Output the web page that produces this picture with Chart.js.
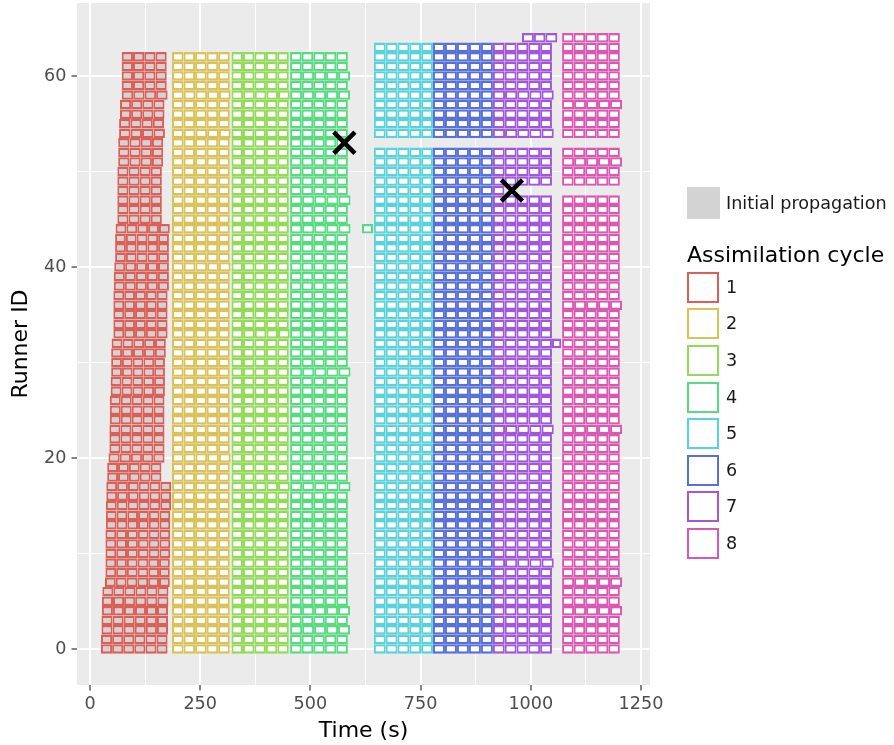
<!DOCTYPE html>
<html>
<head>
<meta charset="utf-8">
<script src="https://cdn.jsdelivr.net/npm/chart.js@4"></script>
<style>
  body { margin: 0; background: #fff; font-family: 'DejaVu Sans', sans-serif; }
  #wrap { position: relative; width: 894px; height: 745px; }
  #chart { position: absolute; left: 0; top: 0; }
  .key { position: absolute; box-sizing: border-box; width: 32px; height: 31px; background: #fff; border: 2.3px solid; }
  .lab { position: absolute; font-size: 17.6px; color: #1a1a1a; line-height: 20px; }
  #title { position: absolute; left: 687px; top: 242px; font-size: 22px; color: #000; }
</style>
</head>
<body>
<div id="wrap">
  <canvas id="chart" width="894" height="745"></canvas>
  <div class="key" style="left:687px;top:187px;width:33px;height:32px;border:none;background:#d3d3d3"></div>
  <div class="lab" style="left:726px;top:193px">Initial propagation</div>
  <div id="title">Assimilation cycle</div>
  <div id="legend"></div>
</div>
<script>
// --- Data ---
const cycles      = ['1', '2', '3', '4', '5', '6', '7', '8'];
const cycleColors = ['#DB5F57', '#DBC257', '#91DB57', '#57DB80', '#57D3DB', '#5770DB', '#A157DB', '#DB57B2'];

// cycle 1 = initial propagation, one entry per runner 0..62
const c1Start = [25, 25, 26, 26, 27, 27, 28, 34, 35, 35, 35, 35, 35, 36, 36, 36, 37, 37,
                 39, 39, 42, 44, 44, 44, 45, 45, 45, 47, 47, 48, 48, 48, 49, 53, 53, 53,
                 53, 53, 54, 54, 55, 57, 57, 57, 58, 62, 62, 62, 62, 62, 62, 64, 64, 64,
                 66, 66, 68, 68, 72, 72, 72, 72, 72];
const c1End   = [176, 176, 177, 177, 177, 178, 178, 181, 181, 181, 182, 182, 182, 182, 182, 184, 184, 184,
                 162, 162, 169, 169, 169, 169, 169, 169, 169, 170, 170, 170, 170, 172, 172, 176, 176, 176,
                 176, 176, 179, 179, 179, 179, 179, 179, 181, 163, 163, 163, 163, 163, 163, 166, 166, 166,
                 170, 168, 169, 169, 176, 174, 174, 174, 174];
const c1Tasks = [6, 6, 6, 6, 6, 6, 6, 6, 6, 6, 6, 6, 6, 6, 6, 6, 6, 6,
                 5, 5, 5, 5, 5, 5, 5, 5, 5, 5, 5, 5, 5, 5, 5, 5, 5, 5,
                 5, 5, 5, 5, 5, 5, 5, 5, 5, 4, 4, 4, 4, 4, 4, 4, 4, 4,
                 4, 4, 4, 4, 4, 4, 4, 4, 4];

// cycles 2..8 (index 0 unused)
const cycleStart  = [null, 186, 321, 454, 644, 778, 914, 1071];
const cycleEnd    = [null, 317, 451, 585, 778, 914, 1048, 1202];
const tasksPerRow = 5;
const topRunner   = [62, 62, 62, 62, 63, 63, 63, 64];
const lostRunners = [[], [], [], [], [53], [53], [53, 48, 64], [53, 48]];

// [cycle, runner, end] rows that ran a bit longer
const rowEndOverrides = [
  [2, 58, 319], [2, 54, 319], [2, 40, 319], [2, 20, 319],
  [3, 58, 453], [3, 33, 453], [3, 17, 453],
  [4, 60, 590], [4, 58, 590], [4, 47, 591], [4, 44, 591], [4, 29, 591], [4, 17, 591], [4, 4, 590], [4, 2, 590],
  [7, 58, 1052], [7, 54, 1052], [7, 23, 1052], [7, 9, 1052],
  [8, 57, 1207], [8, 51, 1207], [8, 36, 1207], [8, 23, 1207], [8, 7, 1207], [8, 4, 1207]
];
// [cycle, runner, start, end] single tasks outside the main blocks
const extraTasks = [
  [4, 44, 617, 642],
  [7, 32, 1048, 1069],
  [7, 48, 914, 940],
  [7, 64, 980, 1007], [7, 64, 1007, 1033], [7, 64, 1033, 1060]
];
// runner failures
const failTimes   = [577, 957];
const failRunners = [53, 48];

// axis ticks
const xMajor = [0, 250, 500, 750, 1000, 1250];
const xMinor = [125, 375, 625, 875, 1125];
const yMajor = [0, 20, 40, 60];
const yMinor = [10, 30, 50];

// --- Build task rectangles ---
function cycleTasks(c) {
  const out = [];
  for (let r = 0; r <= topRunner[c - 1]; r++) {
    if (lostRunners[c - 1].includes(r)) continue;
    let s, e, n;
    if (c === 1) {
      s = c1Start[r]; e = c1End[r]; n = c1Tasks[r];
    } else {
      s = cycleStart[c - 1]; e = cycleEnd[c - 1]; n = tasksPerRow;
      const o = rowEndOverrides.find(v => v[0] === c && v[1] === r);
      if (o) e = o[2];
    }
    const w = (e - s) / n;
    for (let k = 0; k < n; k++) out.push({ x: [s + k * w, s + (k + 1) * w], y: r });
  }
  extraTasks.filter(t => t[0] === c).forEach(t => out.push({ x: [t[2], t[3]], y: t[1] }));
  return out;
}

const datasets = cycles.map((name, i) => ({
  type: 'bar',
  label: name,
  data: cycleTasks(i + 1),
  backgroundColor: i === 0 ? '#D3D3D3' : '#FFFFFF',
  borderColor: cycleColors[i],
  borderWidth: { top: 2.4, bottom: 2.4, left: 2, right: 2 },
  borderSkipped: false,
  grouped: false,
  categoryPercentage: 1,
  barPercentage: 1,
  inflateAmount: 0,
  order: 1,
}));

datasets.push({
  type: 'scatter',
  label: 'failure',
  data: failTimes.map((t, i) => ({ x: t, y: failRunners[i] })),
  pointStyle: 'crossRot',
  pointRadius: 15,
  borderColor: '#000',
  borderWidth: 4.5,
  order: 0,
});

// --- Legend (HTML) ---
const legend = document.getElementById('legend');
cycles.forEach((name, i) => {
  const top = 271.7 + i * 36.6;
  const key = document.createElement('div');
  key.className = 'key';
  key.style.left = '687px';
  key.style.top = top + 'px';
  key.style.borderColor = cycleColors[i];
  legend.appendChild(key);
  const lab = document.createElement('div');
  lab.className = 'lab';
  lab.style.left = '726px';
  lab.style.top = (top + 5) + 'px';
  lab.textContent = name;
  legend.appendChild(lab);
});

// --- Panel background ---
const panelBg = {
  id: 'panelBg',
  beforeDraw(chart) {
    const { ctx, chartArea: a } = chart;
    ctx.save();
    ctx.fillStyle = '#EBEBEB';
    ctx.fillRect(a.left, a.top, a.right - a.left, a.bottom - a.top);
    ctx.restore();
  }
};

const tickFont = { family: 'DejaVu Sans', size: 17.6 };
const titleFont = { family: 'DejaVu Sans', size: 22 };

const isMajor = (major, c) => !!(c.tick && major.includes(c.tick.value));

function gridFor(major) {
  return {
    color: '#FFFFFF',
    offset: false,
    lineWidth: c => isMajor(major, c) ? 2 : 1,
    drawTicks: true,
    tickLength: 5.5,
    tickWidth: 1.2,
    tickColor: c => isMajor(major, c) ? '#333333' : 'rgba(0,0,0,0)',
  };
}

new Chart(document.getElementById('chart'), {
  type: 'bar',
  data: { datasets },
  plugins: [panelBg],
  options: {
    indexAxis: 'y',
    responsive: false,
    animation: false,
    events: [],
    layout: { autoPadding: false, padding: { top: 3, right: 244, left: 0, bottom: 0 } },
    plugins: { legend: { display: false }, tooltip: { enabled: false } },
    scales: {
      x: {
        type: 'linear',
        min: -29.5,
        max: 1270.4,
        offset: false,
        afterBuildTicks: s => { s.ticks = [...xMajor, ...xMinor].sort((a, b) => a - b).map(v => ({ value: v })); },
        afterFit: s => { s.height = 60; s.paddingLeft = 0; s.paddingRight = 0; },
        grid: gridFor(xMajor),
        border: { display: false },
        ticks: {
          autoSkip: false, maxRotation: 0, padding: 3,
          color: '#4D4D4D', font: tickFont,
          callback: v => xMajor.includes(v) ? String(v) : '',
        },
        title: { display: true, text: 'Time (s)', color: '#000', font: titleFont, padding: { top: 0, bottom: 1 } },
      },
      y: {
        type: 'linear',
        min: -3.77,
        max: 67.64,
        offset: false,
        afterBuildTicks: s => { s.ticks = [...yMajor, ...yMinor].sort((a, b) => a - b).map(v => ({ value: v })); },
        afterFit: s => { s.width = 77; s.paddingTop = 0; s.paddingBottom = 0; },
        grid: gridFor(yMajor),
        border: { display: false },
        ticks: {
          autoSkip: false, padding: 5,
          color: '#4D4D4D', font: tickFont,
          callback: v => yMajor.includes(v) ? String(v) : '',
        },
        title: { display: true, text: 'Runner ID', color: '#000', font: titleFont, padding: { top: 8, bottom: 0 } },
      }
    }
  }
});
</script>
</body>
</html>
